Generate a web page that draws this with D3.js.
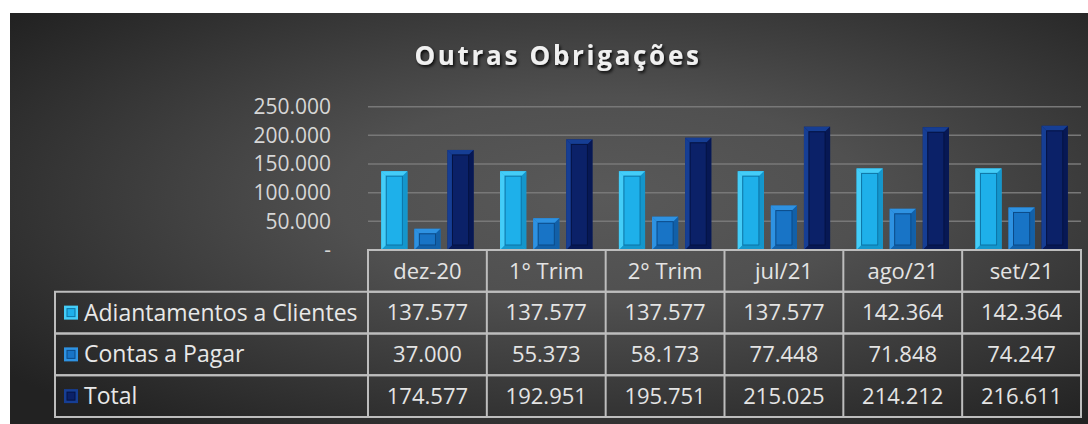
<!DOCTYPE html>
<html>
<head>
<meta charset="utf-8">
<script src="https://cdnjs.cloudflare.com/ajax/libs/d3/7.8.5/d3.min.js"></script>
<style>
body { margin: 0; background: #fff; }
svg text { font-family: 'Open Sans', sans-serif; }
</style>
</head>
<body>
<div id="chart"></div>
<script>
var title = 'Outras Obrigações';
var categories = ['dez-20', '1° Trim', '2° Trim', 'jul/21', 'ago/21', 'set/21'];
var seriesNames = ['Adiantamentos a Clientes', 'Contas a Pagar', 'Total'];
var adiantamentos = [137577, 137577, 137577, 137577, 142364, 142364];
var contasPagar = [37000, 55373, 58173, 77448, 71848, 74247];
var totais = [174577, 192951, 195751, 215025, 214212, 216611];
var yTicks = [0, 50000, 100000, 150000, 200000, 250000];

// bevel colours for each series
var palette = [
	{ face: '#1eb0ea', light: '#44cdf8', dark: '#1496cc', line: '#0d73a4' },
	{ face: '#1874c6', light: '#2e92e2', dark: '#1260a8', line: '#0b4a88' },
	{ face: '#0b2168', light: '#163e94', dark: '#071854', line: '#051342' }
];

var width = 1088, height = 424;
var ptBR = d3.formatLocale({ decimal: ',', thousands: '.', grouping: [3], currency: ['R$', ''] });
var fmt = ptBR.format(',.0f');

var svg = d3.select('#chart').append('svg')
	.attr('width', width)
	.attr('height', height);

var defs = svg.append('defs');
var bg = defs.append('radialGradient')
	.attr('id', 'bgGrad')
	.attr('cx', 0.55).attr('cy', 0.45).attr('r', 0.7);
bg.append('stop').attr('offset', 0).attr('stop-color', '#595959');
bg.append('stop').attr('offset', 0.35).attr('stop-color', '#505050');
bg.append('stop').attr('offset', 1).attr('stop-color', '#222222');

var shadow = defs.append('filter').attr('id', 'titleShadow')
	.attr('x', '-10%').attr('y', '-30%').attr('width', '120%').attr('height', '160%');
shadow.append('feDropShadow')
	.attr('dx', 1.5).attr('dy', 2).attr('stdDeviation', 1.5)
	.attr('flood-color', '#000').attr('flood-opacity', 0.85);

svg.append('rect')
	.attr('x', 10).attr('y', 13)
	.attr('width', width - 10).attr('height', height - 13)
	.attr('fill', 'url(#bgGrad)');

svg.append('text')
	.attr('x', 558).attr('y', 65)
	.attr('text-anchor', 'middle')
	.attr('font-size', 26)
	.attr('font-weight', 700)
	.attr('letter-spacing', 2.7)
	.attr('fill', '#f0f0f0')
	.attr('filter', 'url(#titleShadow)')
	.text(title);

// scales
var x = d3.scaleBand().domain(categories).range([368, 1081]);
var xs = d3.scaleBand().domain(seriesNames).range([0, x.bandwidth()])
	.paddingInner(0.21).paddingOuter(0.4);
var y = d3.scaleLinear().domain([0, 250000]).range([250, 106.7]);
var rowY = d3.scaleBand().domain(['header'].concat(seriesNames)).range([250, 417]);

// grid
svg.append('g').selectAll('line').data(yTicks.slice(1)).enter()
	.append('line')
	.attr('x1', x.range()[0]).attr('x2', x.range()[1])
	.attr('y1', function (d) { return y(d); })
	.attr('y2', function (d) { return y(d); })
	.attr('stroke', '#787878')
	.attr('stroke-width', 1.5);

// y labels (accounting style, zero as dash)
var yAxis = d3.axisLeft(y).tickValues(yTicks).tickSize(0)
	.tickFormat(function (d) { return d === 0 ? '-' : fmt(d); });
var yg = svg.append('g')
	.attr('transform', 'translate(334,0)')
	.call(yAxis);
yg.select('.domain').remove();
yg.selectAll('text')
	.attr('font-family', "'Open Sans', sans-serif")
	.attr('font-size', 21)
	.attr('fill', '#d6d6d6');

// bars
var seriesData = [adiantamentos, contasPagar, totais];
seriesData.forEach(function (values, si) {
	var g = svg.append('g');
	values.forEach(function (v, ci) {
		var bx = x(categories[ci]) + xs(seriesNames[si]);
		var by = y(v);
		drawBar(g, bx, by, xs.bandwidth(), y(0) - by, palette[si]);
	});
});

function drawBar(g, bx, by, w, h, c) {
	var d = Math.min(5, h / 3);
	g.append('rect')
		.attr('x', bx).attr('y', by)
		.attr('width', w).attr('height', h)
		.attr('fill', c.face);
	var faces = [
		{ pts: [[bx, by], [bx + w, by], [bx + w - d, by + d], [bx + d, by + d]], fill: c.light },
		{ pts: [[bx, by], [bx + d, by + d], [bx + d, by + h - d], [bx, by + h]], fill: c.light },
		{ pts: [[bx + w, by], [bx + w, by + h], [bx + w - d, by + h - d], [bx + w - d, by + d]], fill: c.dark },
		{ pts: [[bx, by + h], [bx + d, by + h - d], [bx + w - d, by + h - d], [bx + w, by + h]], fill: c.dark }
	];
	faces.forEach(function (f) {
		g.append('path')
			.attr('d', 'M' + f.pts.join('L') + 'Z')
			.attr('fill', f.fill);
	});
	g.append('rect')
		.attr('x', bx + d).attr('y', by + d)
		.attr('width', w - 2 * d).attr('height', Math.max(0, h - 2 * d))
		.attr('fill', c.face)
		.attr('stroke', c.line)
		.attr('stroke-width', 1);
}

// data table
var tbl = svg.append('g');
var lineColor = '#bdbdbd';
var left = 55;

tbl.append('rect')
	.attr('x', x.range()[0]).attr('y', rowY('header'))
	.attr('width', x.range()[1] - x.range()[0]).attr('height', rowY.bandwidth())
	.attr('fill', 'none').attr('stroke', lineColor).attr('stroke-width', 2);

seriesNames.forEach(function (name) {
	tbl.append('rect')
		.attr('x', left).attr('y', rowY(name))
		.attr('width', x.range()[1] - left).attr('height', rowY.bandwidth())
		.attr('fill', 'none').attr('stroke', lineColor).attr('stroke-width', 2);
});

categories.forEach(function (cat) {
	tbl.append('line')
		.attr('x1', x(cat)).attr('x2', x(cat))
		.attr('y1', rowY('header')).attr('y2', rowY.range()[1])
		.attr('stroke', lineColor).attr('stroke-width', 2);
});

tbl.selectAll('.head').data(categories).enter()
	.append('text')
	.attr('class', 'head')
	.attr('x', function (d) { return x(d) + x.bandwidth() / 2; })
	.attr('y', rowY('header') + rowY.bandwidth() / 2)
	.attr('dy', '0.35em')
	.attr('text-anchor', 'middle')
	.attr('font-size', 22)
	.attr('fill', '#e4e4e4')
	.text(function (d) { return d; });

seriesNames.forEach(function (name, si) {
	var cy = rowY(name) + rowY.bandwidth() / 2;
	var c = palette[si];
	tbl.append('rect')
		.attr('x', 64).attr('y', cy - 7)
		.attr('width', 14).attr('height', 14)
		.attr('fill', c.light);
	tbl.append('rect')
		.attr('x', 67).attr('y', cy - 4)
		.attr('width', 8).attr('height', 8)
		.attr('fill', c.face)
		.attr('stroke', c.line).attr('stroke-width', 1);
	tbl.append('text')
		.attr('x', 84).attr('y', cy)
		.attr('dy', '0.35em')
		.attr('font-size', 23)
		.attr('fill', '#e8e8e8')
		.text(name);
	tbl.selectAll('.v' + si).data(seriesData[si]).enter()
		.append('text')
		.attr('class', 'v' + si)
		.attr('x', function (d, i) { return x(categories[i]) + x.bandwidth() / 2; })
		.attr('y', cy)
		.attr('dy', '0.35em')
		.attr('text-anchor', 'middle')
		.attr('font-size', 22)
		.attr('fill', '#e4e4e4')
		.text(function (d) { return fmt(d); });
});
</script>
</body>
</html>
